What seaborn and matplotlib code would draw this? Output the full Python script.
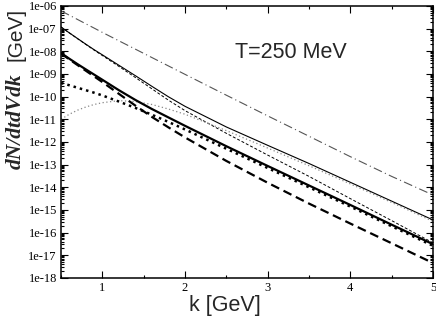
import numpy as np
import pandas as pd
import matplotlib
matplotlib.use('Agg')
import matplotlib.pyplot as plt
import matplotlib.ticker as mticker
import seaborn as sns

# photon momentum grid (GeV)
k = [0.5, 0.6, 0.7, 0.8, 0.9, 1.0, 1.2, 1.4, 1.6, 1.8, 2.0, 2.5, 3.0, 3.5, 4.0, 4.5, 5.0]

# rates, dN/dtdVdk [GeV]
dashdot_thin = [6.03e-7, 3.89e-7, 2.51e-7, 1.62e-7, 1.05e-7, 6.76e-8, 2.88e-8, 1.23e-8, 5.25e-9,
                2.24e-9, 9.55e-10, 1.15e-10, 1.41e-11, 1.78e-12, 2.24e-13, 3.02e-14, 4.57e-15]
solid_thin = [1.17e-7, 6.46e-8, 3.63e-8, 2.04e-8, 1.17e-8, 6.92e-9, 2.40e-9, 8.32e-10, 2.82e-10,
              9.77e-11, 3.72e-11, 4.57e-12, 7.08e-13, 1.12e-13, 1.66e-14, 2.45e-15, 3.63e-16]
dashed_thin = [1.17e-7, 6.46e-8, 3.55e-8, 2.00e-8, 1.12e-8, 6.46e-9, 2.14e-9, 6.92e-10, 2.19e-10,
               6.92e-11, 2.40e-11, 2.40e-12, 2.63e-13, 3.02e-14, 3.16e-15, 3.39e-16, 3.55e-17]
dotted_thin = [1.0e-11, 1.66e-11, 2.51e-11, 3.47e-11, 4.47e-11, 5.37e-11, 6.61e-11, 6.03e-11, 4.47e-11,
               2.82e-11, 1.66e-11, 3.16e-12, 5.37e-13, 8.91e-14, 1.41e-14, 2.14e-15, 3.16e-16]
solid_thick = [8.32e-9, 4.68e-9, 2.69e-9, 1.58e-9, 9.33e-10, 5.50e-10, 1.91e-10, 7.08e-11, 2.82e-11,
               1.20e-11, 5.13e-12, 6.46e-13, 8.71e-14, 1.20e-14, 1.66e-15, 2.24e-16, 3.09e-17]
dashed_thick = [7.94e-9, 4.37e-9, 2.45e-9, 1.38e-9, 7.76e-10, 4.37e-10, 1.32e-10, 3.98e-11, 1.26e-11,
                4.37e-12, 1.58e-12, 1.45e-13, 1.58e-14, 1.91e-15, 2.51e-16, 3.39e-17, 4.57e-18]
dotted_thick = [3.98e-10, 3.16e-10, 2.45e-10, 1.91e-10, 1.48e-10, 1.12e-10, 6.03e-11, 3.16e-11, 1.58e-11,
                7.59e-12, 3.55e-12, 5.01e-13, 7.08e-14, 1.0e-14, 1.41e-15, 1.91e-16, 2.63e-17]

xticks = [1, 2, 3, 4, 5]
ydecades = [1e-18, 1e-17, 1e-16, 1e-15, 1e-14, 1e-13, 1e-12, 1e-11, 1e-10, 1e-09, 1e-08, 1e-07, 1e-06]

sns.set_theme(style='ticks')
plt.rcParams['font.family'] = ['Liberation Serif', 'DejaVu Serif']

fig = plt.figure(figsize=(4.36, 3.27), dpi=100)
ax = fig.add_axes([0.140, 0.150, 0.853, 0.832])

curves = [
    (dashdot_thin, '#555555', 0.8, (0, (8, 3, 1, 3))),
    (solid_thin, 'black', 0.8, '-'),
    (dashed_thin, 'black', 0.7, (0, (3, 2))),
    (dotted_thin, '#888888', 0.9, (0, (1, 2))),
    (solid_thick, 'black', 1.6, '-'),
    (dashed_thick, 'black', 1.6, (0, (4, 2.2))),
    (dotted_thick, 'black', 1.8, (0, (1, 1.6))),
]
for vals, col, lw, ls in curves:
    df = pd.DataFrame({'k': k, 'rate': vals})
    sns.lineplot(data=df, x='k', y='rate', ax=ax, color=col, lw=lw, linestyle=ls,
                 errorbar=None, sort=False)

ax.set_yscale('log')
ax.set_xlim(0.5, 5)
ax.set_ylim(1e-18, 1e-6)
ax.set_xticks(xticks)
ax.set_xticklabels([str(t) for t in xticks])
ax.xaxis.set_minor_locator(mticker.MultipleLocator(0.5))
ax.set_yticks(ydecades)
ax.yaxis.set_major_formatter(mticker.FuncFormatter(lambda v, p: f'{v:.0e}'))
ax.yaxis.set_minor_locator(mticker.LogLocator(base=10, subs=np.arange(2, 10), numticks=30))
ax.yaxis.set_minor_formatter(mticker.NullFormatter())
ax.tick_params(which='both', top=True, right=True, direction='in', width=0.8, color='black',
               labelsize=9, labelcolor='black', pad=3)
ax.tick_params(which='major', length=5)
ax.tick_params(which='minor', length=2.5)
for s in ax.spines.values():
    s.set_linewidth(1.1)
    s.set_color('black')

ax.set_xlabel('')
ax.set_ylabel('')
fig.text(0.515, 0.067, 'k [GeV]', family='Liberation Sans', fontsize=15.5, ha='center', va='center')
fig.text(0.036, 0.63, 'dN/dtdVdk', family='Liberation Serif', style='italic', weight='bold',
         fontsize=15.5, rotation=90, ha='center', va='center')
fig.text(0.036, 0.895, '[GeV]', family='Liberation Sans', fontsize=15, rotation=90,
         ha='center', va='center')
ax.text(0.468, 0.83, 'T=250 MeV', transform=ax.transAxes, family='Liberation Sans',
        fontsize=15.5, ha='left', va='center')

fig.savefig('out.png', dpi=100, facecolor='white')
